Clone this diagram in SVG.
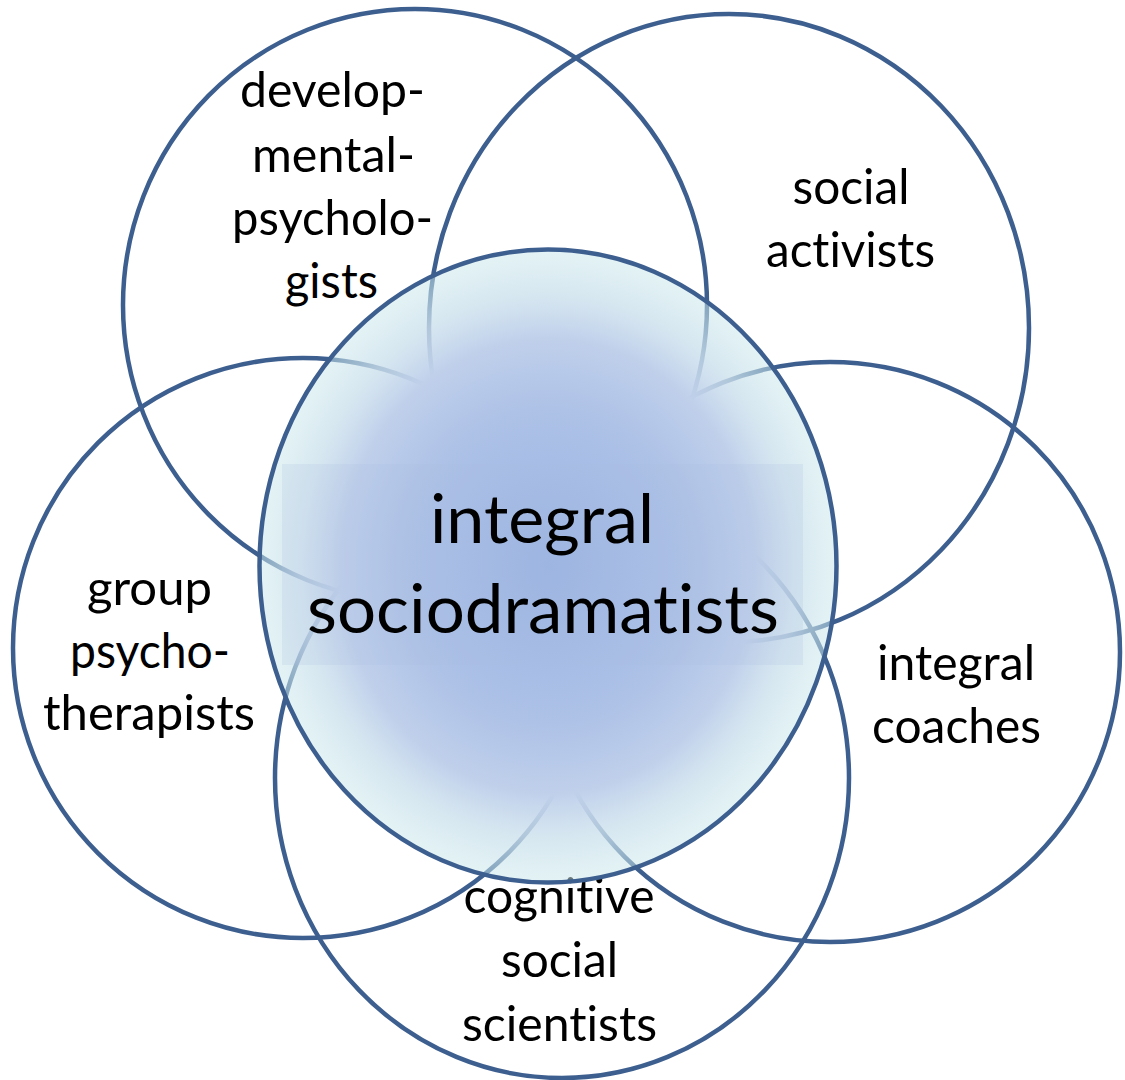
<svg xmlns="http://www.w3.org/2000/svg" width="1125" height="1080" viewBox="0 0 1125 1080">
  <defs>
    <radialGradient id="centerFill" cx="0.5" cy="0.5" r="0.5" fx="0.5" fy="0.5">
      <stop offset="0" stop-color="#9ab3e2" stop-opacity="1"/>
      <stop offset="0.5" stop-color="#aec2e7" stop-opacity="1"/>
      <stop offset="0.72" stop-color="#c0d0eb" stop-opacity="1"/>
      <stop offset="0.86" stop-color="#cde1ed" stop-opacity="0.8"/>
      <stop offset="1" stop-color="#c9e7eb" stop-opacity="0.5"/>
    </radialGradient>
    <style>
      .ring { fill: none; stroke: #3d5f8f; stroke-width: 4.5; }
      .core { fill: url(#centerFill); stroke: #3d5f8f; stroke-width: 4.5; }
      .lbl { font-family: Lato, "Liberation Sans", sans-serif; font-size: 49px; fill: #000; text-anchor: middle; font-variant-ligatures: none; }
      .big { font-family: Lato, "Liberation Sans", sans-serif; font-size: 68px; fill: #000; text-anchor: middle; font-variant-ligatures: none; }
    </style>
  </defs>
  <rect width="1125" height="1080" fill="#ffffff"/>

  <g id="node-developmental">
    <ellipse class="ring" cx="415" cy="305" rx="292" ry="296"/>
    <text class="lbl" x="332.5" y="107" textLength="185" lengthAdjust="spacingAndGlyphs">develop-</text>
    <text class="lbl" x="333.5" y="172" textLength="163" lengthAdjust="spacingAndGlyphs">mental-</text>
    <text class="lbl" x="332.5" y="235" textLength="201" lengthAdjust="spacingAndGlyphs">psycholo-</text>
    <text class="lbl" x="331.5" y="298" textLength="93" lengthAdjust="spacingAndGlyphs">gists</text>
  </g>

  <g id="node-social-activists">
    <ellipse class="ring" cx="729" cy="328" rx="300" ry="314"/>
    <text class="lbl" x="851" y="204" textLength="117" lengthAdjust="spacingAndGlyphs">social</text>
    <text class="lbl" x="850.5" y="267" textLength="169" lengthAdjust="spacingAndGlyphs">activists</text>
  </g>

  <g id="node-group-psychotherapists">
    <circle class="ring" cx="303" cy="648" r="290"/>
    <text class="lbl" x="149.5" y="605" textLength="125" lengthAdjust="spacingAndGlyphs">group</text>
    <text class="lbl" x="150" y="668" textLength="160" lengthAdjust="spacingAndGlyphs">psycho-</text>
    <text class="lbl" x="149" y="730" textLength="212" lengthAdjust="spacingAndGlyphs">therapists</text>
  </g>

  <g id="node-integral-coaches">
    <circle class="ring" cx="830" cy="652" r="290"/>
    <text class="lbl" x="956" y="680" textLength="158" lengthAdjust="spacingAndGlyphs">integral</text>
    <text class="lbl" x="956.5" y="743" textLength="169" lengthAdjust="spacingAndGlyphs">coaches</text>
  </g>

  <g id="node-cognitive-social-scientists">
    <ellipse class="ring" cx="562" cy="778" rx="287" ry="300"/>
    <text class="lbl" x="559" y="913" textLength="191" lengthAdjust="spacingAndGlyphs">cognitive</text>
    <text class="lbl" x="559.5" y="977" textLength="117" lengthAdjust="spacingAndGlyphs">social</text>
    <text class="lbl" x="559.5" y="1041" textLength="195" lengthAdjust="spacingAndGlyphs">scientists</text>
  </g>

  <g id="node-integral-sociodramatists">
    <ellipse class="core" cx="548" cy="566" rx="288.5" ry="316.5"/>
    <rect x="282" y="464" width="521" height="201" fill="#a8c0e0" fill-opacity="0.2"/>
    <text class="big" x="542" y="543" textLength="224" lengthAdjust="spacingAndGlyphs">integral</text>
    <text class="big" x="543" y="633" textLength="472" lengthAdjust="spacingAndGlyphs">sociodramatists</text>
  </g>

  <g id="connectors"></g>
</svg>
